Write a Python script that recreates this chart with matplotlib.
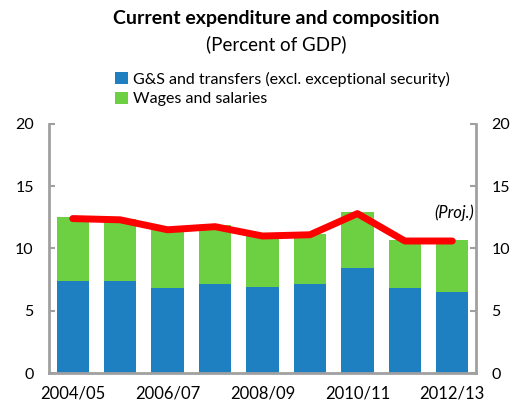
import matplotlib.pyplot as plt
import numpy as np

plt.rcParams['font.family'] = ['Lato', 'DejaVu Sans']

years = ["2004/05", "2005/06", "2006/07", "2007/08", "2008/09",
         "2009/10", "2010/11", "2011/12", "2012/13"]
gs_transfers = [7.4, 7.4, 6.8, 7.15, 6.9, 7.15, 8.45, 6.8, 6.5]
wages = [5.1, 4.95, 4.7, 4.75, 4.25, 4.05, 4.45, 3.9, 4.2]
total_line = [12.4, 12.3, 11.5, 11.75, 11.0, 11.1, 12.8, 10.6, 10.6]

blue = "#1f80c1"
green = "#6dd043"
gray = "#a0a0a0"

fig = plt.figure(figsize=(5.12, 4.05), dpi=100)
ax = fig.add_axes([0.0957, 0.079, 0.834, 0.615])

x = np.arange(len(years))
ax.bar(x, gs_transfers, width=0.68, color=blue, label="G&S and transfers (excl. exceptional security)")
ax.bar(x, wages, width=0.68, bottom=gs_transfers, color=green, label="Wages and salaries")
ax.plot(x, total_line, color="red", lw=5, solid_capstyle="round", zorder=3)

ax.set_xlim(-0.5, 8.5)
ax.set_ylim(0, 20)
ax.set_yticks([0, 5, 10, 15, 20])
ax.set_xticks(x[::2])
ax.set_xticklabels(years[::2])
ax.tick_params(axis="x", length=0, labelsize=12, pad=9)
ax.tick_params(axis="y", direction="in", length=4, width=1.5, color=gray,
               labelsize=11.5, pad=11, left=True, right=True,
               labelleft=True, labelright=True)
ax.spines["top"].set_visible(False)
for s in ["left", "right", "bottom"]:
    ax.spines[s].set_color(gray)
    ax.spines[s].set_linewidth(2)

ax.text(8.05, 12.85, "(Proj.)", style="italic", fontsize=12, ha="center", va="center")

fig.text(0.54, 0.955, "Current expenditure and composition", fontsize=14,
         fontweight="bold", ha="center", va="center")
fig.text(0.54, 0.89, "(Percent of GDP)", fontsize=13.5, ha="center", va="center")

ax.legend(loc="upper left", bbox_to_anchor=(0.14, 1.235), frameon=False,
          fontsize=11.5, handlelength=0.8, handleheight=0.8, handletextpad=0.3,
          labelspacing=0.3, borderaxespad=0)

fig.savefig("out.png", dpi=100)
